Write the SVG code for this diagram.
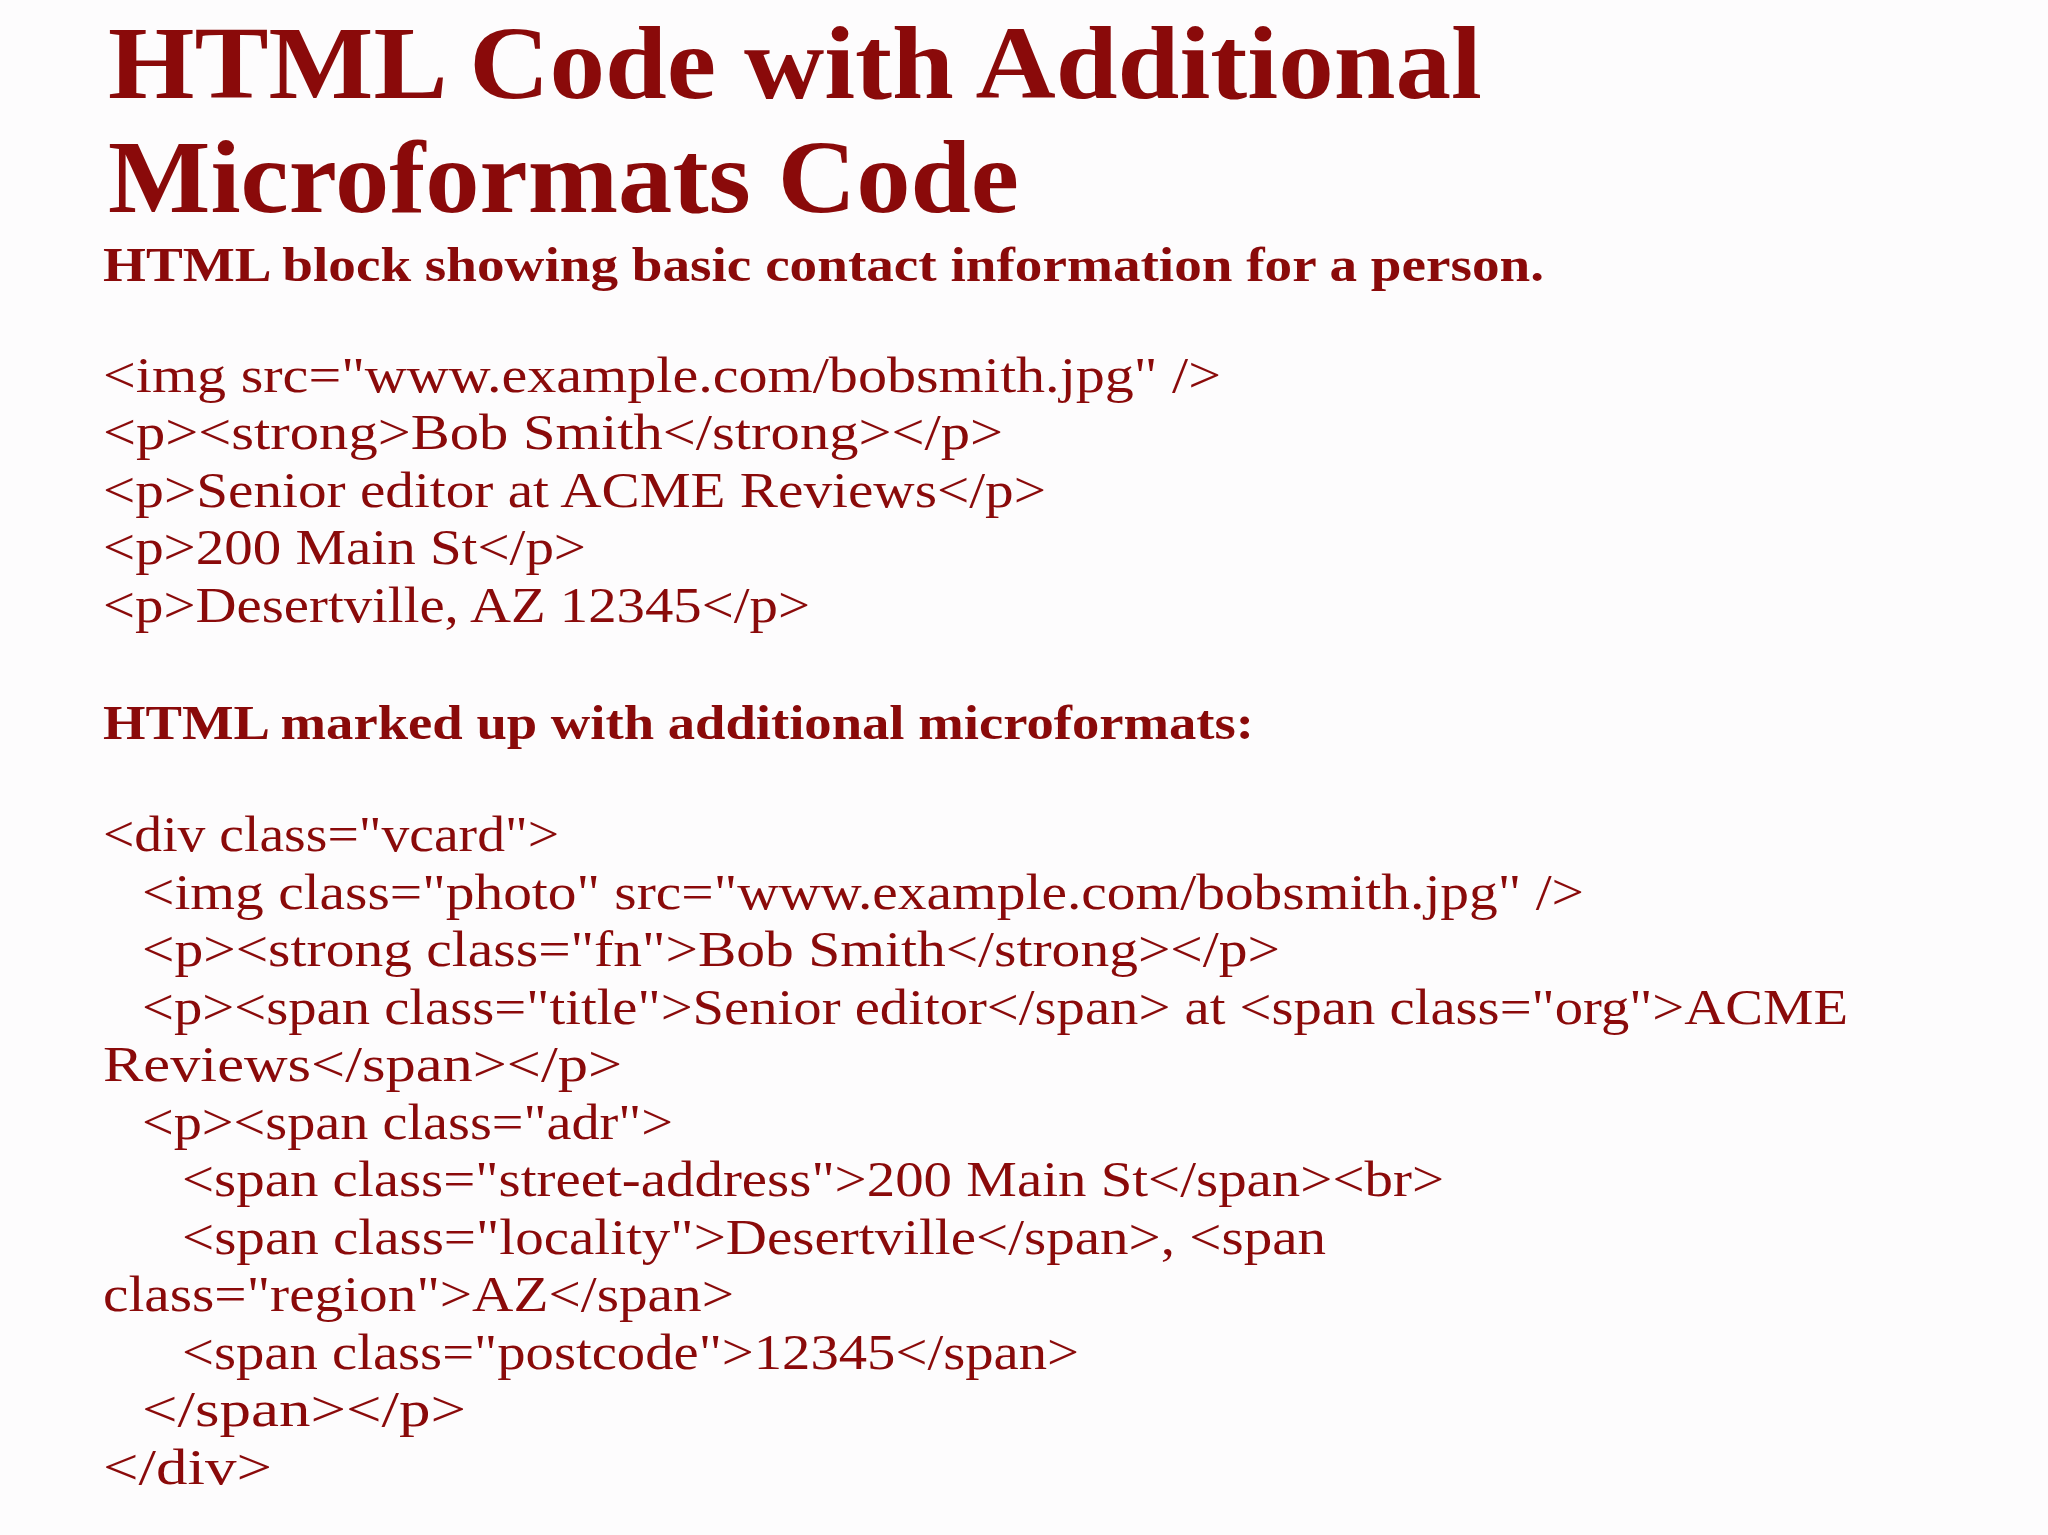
<svg xmlns="http://www.w3.org/2000/svg" width="2048" height="1535" viewBox="0 0 2048 1535">
<style>
text{font-family:"Liberation Serif","DejaVu Serif",serif;fill:#8a0a0a;}
.t{font-size:104px;font-weight:bold;}
.h{font-size:48px;font-weight:bold;}
.c{font-size:50px;}
</style>
<rect width="2048" height="1535" fill="#fdfcfd"/>
<g id="title">
<text class="t" x="108" y="98" textLength="1374" lengthAdjust="spacingAndGlyphs">HTML Code with Additional</text>
<text class="t" x="108" y="212" textLength="911" lengthAdjust="spacingAndGlyphs">Microformats Code</text>
</g>
<g id="basic">
<text class="h" x="103" y="281" textLength="1441" lengthAdjust="spacingAndGlyphs">HTML block showing basic contact information for a person.</text>
<text class="c" x="103" y="392" textLength="1118" lengthAdjust="spacingAndGlyphs">&lt;img src="www.example.com/bobsmith.jpg" /&gt;</text>
<text class="c" x="103" y="449" textLength="900" lengthAdjust="spacingAndGlyphs">&lt;p&gt;&lt;strong&gt;Bob Smith&lt;/strong&gt;&lt;/p&gt;</text>
<text class="c" x="103" y="507" textLength="943" lengthAdjust="spacingAndGlyphs">&lt;p&gt;Senior editor at ACME Reviews&lt;/p&gt;</text>
<text class="c" x="103" y="564" textLength="483" lengthAdjust="spacingAndGlyphs">&lt;p&gt;200 Main St&lt;/p&gt;</text>
<text class="c" x="103" y="622" textLength="707" lengthAdjust="spacingAndGlyphs">&lt;p&gt;Desertville, AZ 12345&lt;/p&gt;</text>
</g>
<g id="micro">
<text class="h" x="103" y="739" textLength="1151" lengthAdjust="spacingAndGlyphs">HTML marked up with additional microformats:</text>
<text class="c" x="103" y="851" textLength="456" lengthAdjust="spacingAndGlyphs">&lt;div class="vcard"&gt;</text>
<text class="c" x="142" y="909" textLength="1442" lengthAdjust="spacingAndGlyphs">&lt;img class="photo" src="www.example.com/bobsmith.jpg" /&gt;</text>
<text class="c" x="142" y="966" textLength="1138" lengthAdjust="spacingAndGlyphs">&lt;p&gt;&lt;strong class="fn"&gt;Bob Smith&lt;/strong&gt;&lt;/p&gt;</text>
<text class="c" x="142" y="1024" textLength="1706" lengthAdjust="spacingAndGlyphs">&lt;p&gt;&lt;span class="title"&gt;Senior editor&lt;/span&gt; at &lt;span class="org"&gt;ACME</text>
<text class="c" x="103" y="1081" textLength="519" lengthAdjust="spacingAndGlyphs">Reviews&lt;/span&gt;&lt;/p&gt;</text>
<text class="c" x="142" y="1139" textLength="531" lengthAdjust="spacingAndGlyphs">&lt;p&gt;&lt;span class="adr"&gt;</text>
<text class="c" x="182" y="1196" textLength="1262" lengthAdjust="spacingAndGlyphs">&lt;span class="street-address"&gt;200 Main St&lt;/span&gt;&lt;br&gt;</text>
<text class="c" x="182" y="1254" textLength="1144" lengthAdjust="spacingAndGlyphs">&lt;span class="locality"&gt;Desertville&lt;/span&gt;, &lt;span</text>
<text class="c" x="103" y="1311" textLength="631" lengthAdjust="spacingAndGlyphs">class="region"&gt;AZ&lt;/span&gt;</text>
<text class="c" x="182" y="1369" textLength="897" lengthAdjust="spacingAndGlyphs">&lt;span class="postcode"&gt;12345&lt;/span&gt;</text>
<text class="c" x="142" y="1426" textLength="324" lengthAdjust="spacingAndGlyphs">&lt;/span&gt;&lt;/p&gt;</text>
<text class="c" x="103" y="1484" textLength="169" lengthAdjust="spacingAndGlyphs">&lt;/div&gt;</text>
</g>
<g id="connectors"/>
</svg>
